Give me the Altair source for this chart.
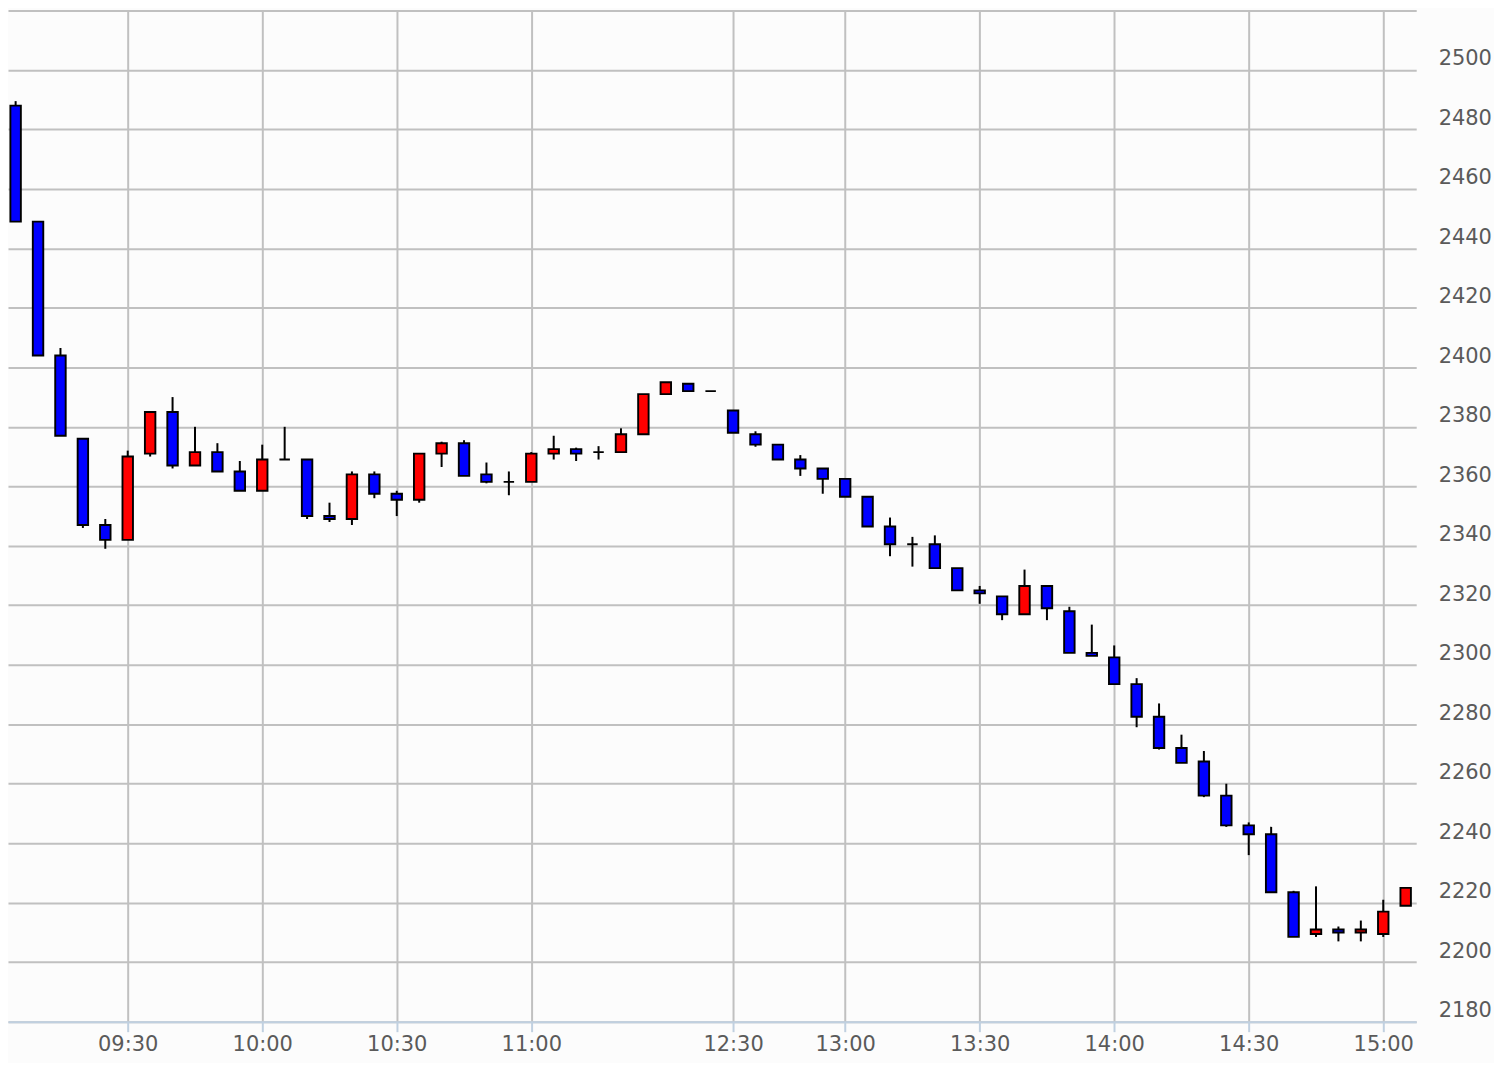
import altair as alt
import pandas as pd

# ---- data ----
opens = [2488, 2449, 2404, 2376, 2347, 2342, 2371, 2385, 2367, 2371.5,
         2365, 2358.5, 2369, 2369, 2350, 2349, 2364, 2357.5, 2355.5, 2371,
         2374.5, 2364, 2361.5, 2361.5, 2371, 2372.5, 2371.5, 2371.5, 2377.5, 2391,
         2394.5, 2392, 2385.5, 2377.5, 2374, 2369, 2366, 2362.5, 2356.5, 2346.5,
         2340.5, 2340.5, 2332.5, 2325, 2323, 2317, 2326.5, 2318, 2304, 2302.5,
         2293.5, 2282.5, 2272, 2267.5, 2256, 2246, 2243, 2223.5, 2209.5, 2211,
         2210, 2209.5, 2219]
highs = [2489.5, 2449, 2406.5, 2376, 2349, 2372, 2385, 2390, 2380, 2374.5,
         2368.5, 2374, 2380, 2369, 2354.5, 2365, 2365, 2358.5, 2371, 2375,
         2375.5, 2368, 2365, 2371.5, 2377, 2373, 2373.5, 2379.5, 2391, 2395,
         2394.5, 2392, 2385.5, 2378.5, 2374, 2370.5, 2366, 2362.5, 2356.5, 2349.5,
         2343, 2343.5, 2332.5, 2326.5, 2323, 2332, 2326.5, 2319.5, 2313.5, 2306.5,
         2295.5, 2287, 2276.5, 2271, 2260, 2247, 2245.5, 2224, 2225.5, 2212,
         2214, 2221, 2225]
lows = [2449, 2404, 2377, 2346, 2339, 2342, 2370, 2366, 2367, 2365,
        2358.5, 2358.5, 2369, 2349, 2348, 2347, 2356, 2350, 2354.5, 2366.5,
        2363.5, 2361, 2357, 2361.5, 2369, 2368.5, 2369, 2371.5, 2377.5, 2391,
        2392, 2392, 2378, 2373.3, 2369, 2363.5, 2357.5, 2356.5, 2346.5, 2336.5,
        2333, 2332.5, 2325, 2320.5, 2315, 2317, 2315, 2304, 2303, 2293.5,
        2279, 2271.5, 2267, 2255.5, 2245.5, 2236, 2223.5, 2208.5, 2208.5, 2207,
        2207, 2208.5, 2219]
closes = [2449, 2404, 2377, 2347, 2342, 2370, 2385, 2367, 2371.5, 2365,
          2358.5, 2369, 2369, 2350, 2349, 2364, 2357.5, 2355.5, 2371, 2374.5,
          2363.5, 2361.5, 2361.5, 2371, 2372.5, 2371, 2371.5, 2377.5, 2391, 2395,
          2392, 2392, 2378, 2374, 2369, 2366, 2362.5, 2356.5, 2346.5, 2340.5,
          2340.5, 2332.5, 2325, 2324, 2317, 2326.5, 2319, 2304, 2303, 2293.5,
          2282.5, 2272, 2267, 2256, 2246, 2243, 2223.5, 2208.5, 2211, 2210,
          2211, 2217, 2225]

tick_index = [6, 12, 18, 24, 33, 38, 44, 50, 56, 62]
tick_labels = ["09:30", "10:00", "10:30", "11:00", "12:30",
               "13:00", "13:30", "14:00", "14:30", "15:00"]

y_ticks = list(range(2180, 2521, 20))

df = pd.DataFrame({
    "idx": list(range(1, len(opens) + 1)),
    "open": opens, "high": highs, "low": lows, "close": closes,
})
df["dir"] = ["up" if c > o else "down" for o, c in zip(opens, closes)]

label_expr = " : ".join(
    f"datum.value == {i} ? '{l}'" for i, l in zip(tick_index, tick_labels)
) + " : ''"

FONT = "DejaVu Sans"
LABEL_COLOR = "#5a5a5a"

x_scale = alt.Scale(domain=[0.66, 63.47], nice=False, zero=False, padding=0)

x_enc = alt.X(
    "idx:Q",
    scale=x_scale,
    axis=alt.Axis(
        values=tick_index, labelExpr=label_expr, title=None,
        grid=True, gridColor="#c0c0c0", gridWidth=2,
        domain=True, domainColor="#c0d0e0", domainWidth=2,
        ticks=True, tickColor="#c0d0e0", tickWidth=2, tickSize=10,
        labelFont=FONT, labelFontSize=21, labelColor=LABEL_COLOR,
        labelPadding=2, labelFlush=False, labelOverlap=False,
    ),
)

y_scale = alt.Scale(domain=[2180, 2520], nice=False, zero=False, padding=0)
y_axis = alt.Axis(
    orient="right", values=y_ticks, title=None,
    labelExpr="datum.value >= 2520 ? '' : datum.label",
    grid=True, gridColor="#c0c0c0", gridWidth=2,
    domain=False, ticks=False,
    labelFont=FONT, labelFontSize=21, labelColor=LABEL_COLOR,
    labelAlign="left", labelBaseline="alphabetic", labelOffset=-5,
    labelPadding=22, format="d", labelOverlap=False,
)

base = alt.Chart(df)

wicks = base.mark_rule(color="black", strokeWidth=2).encode(
    x=x_enc,
    y=alt.Y("low:Q", scale=y_scale, axis=y_axis),
    y2="high:Q",
)

bodies = base.mark_bar(size=10.5, stroke="black", strokeWidth=1.9).encode(
    x=alt.X("idx:Q", scale=x_scale),
    y=alt.Y("open:Q", scale=y_scale),
    y2="close:Q",
    color=alt.Color("dir:N",
                    scale=alt.Scale(domain=["up", "down"], range=["#ff0000", "#0000ff"]),
                    legend=None),
)

chart = alt.layer(wicks, bodies).properties(
    width=1412, height=1014,
    autosize=alt.AutoSizeParams(type="none"),
    padding={"left": 0, "top": 1, "right": 78, "bottom": 40},
    background="#fcfcfc",
).configure_view(stroke=None)

chart.save("out.html", embed_options={"renderer": "svg", "actions": False})
